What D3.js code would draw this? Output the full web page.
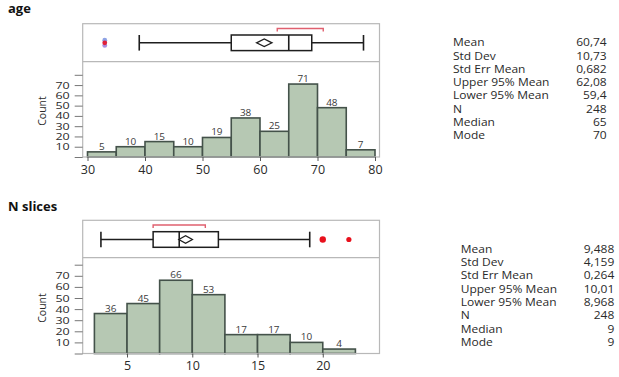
<!DOCTYPE html>
<html>
<head>
<meta charset="utf-8">
<script src="https://cdn.jsdelivr.net/npm/d3@7"></script>
<style>
  body { margin: 0; background: #fff; }
  svg { display: block; font-family: "Open Sans", "Noto Sans", sans-serif; }
</style>
</head>
<body>
<svg id="chart" width="619" height="377"></svg>
<script>
// age distribution
const ageEdges = [30, 35, 40, 45, 50, 55, 60, 65, 70, 75, 80];
const ageCounts = [5, 10, 15, 10, 19, 38, 25, 71, 48, 7];
const ageFive = [39, 55, 65, 69, 78]; // min, q1, median, q3, max (whiskers)
const ageMean = [59.4, 60.74, 62.08]; // lower 95%, mean, upper 95%
const ageShortest = [63, 71];
const ageOutliers = [33, 33, 33];
const ageTicks = [30, 40, 50, 60, 70, 80];
const ageStats = ["60,74", "10,73", "0,682", "62,08", "59,4", "248", "65", "70"];

// N slices distribution
const sliceEdges = [2.5, 5, 7.5, 10, 12.5, 15, 17.5, 20, 22.5];
const sliceCounts = [36, 45, 66, 53, 17, 17, 10, 4];
const sliceFive = [3, 7, 9, 12, 19];
const sliceMean = [8.968, 9.488, 10.01];
const sliceShortest = [7, 11];
const sliceOutliers = [20, 22];
const sliceTicks = [5, 10, 15, 20];
const sliceStats = ["9,488", "4,159", "0,264", "10,01", "8,968", "248", "9", "9"];

const countTicks = [0, 10, 20, 30, 40, 50, 60, 70, 80];
const statLabels = ["Mean", "Std Dev", "Std Err Mean", "Upper 95% Mean", "Lower 95% Mean", "N", "Median", "Mode"];

const svg = d3.select("#chart");
const ink = "#2a2a2a";

function panel(o) {
  const g = svg.append("g");
  const x = d3.scaleLinear().domain(o.xDomain).range(o.xRange);
  const y = d3.scaleLinear().domain([0, 80]).range([o.bottom, o.y80]);

  g.append("text")
    .attr("x", 8).attr("y", o.titleY)
    .attr("font-weight", "bold").attr("font-size", 13).attr("fill", "#111")
    .text(o.title);

  // bars
  const bins = o.counts.map((c, i) => ({ x0: o.edges[i], x1: o.edges[i + 1], c }));
  g.selectAll("rect.bar").data(bins).join("rect")
    .attr("class", "bar")
    .attr("x", d => x(d.x0)).attr("width", d => x(d.x1) - x(d.x0))
    .attr("y", d => y(d.c)).attr("height", d => y(0) - y(d.c))
    .attr("fill", "#b6c8b3").attr("stroke", "#44524a").attr("stroke-width", 1.6);

  g.selectAll("text.cnt").data(bins).join("text")
    .attr("class", "cnt")
    .attr("transform", d => `translate(${(x(d.x0) + x(d.x1)) / 2},${y(d.c) - 2}) scale(1,0.82)`)
    .attr("text-anchor", "middle").attr("font-size", 10).attr("fill", "#3a3a3a")
    .text(d => d.c);

  // frame
  g.append("rect")
    .attr("x", o.left).attr("y", o.top)
    .attr("width", o.right - o.left).attr("height", o.bottom - o.top)
    .attr("fill", "none").attr("stroke", "#b8b8b8").attr("stroke-width", 1.2);
  g.append("line")
    .attr("x1", o.left).attr("x2", o.right).attr("y1", o.divider).attr("y2", o.divider)
    .attr("stroke", "#b8b8b8").attr("stroke-width", 1.2);

  // axes
  const xa = g.append("g").attr("transform", `translate(0,${o.bottom})`)
    .call(d3.axisBottom(x).tickValues(o.ticks).tickSize(4).tickPadding(4));
  xa.select(".domain").remove();
  xa.selectAll("line").attr("stroke", "#555");
  xa.selectAll("text").attr("font-size", 12.5).attr("fill", ink)
    .attr("font-family", "'Open Sans', sans-serif");

  const ya = g.append("g").attr("transform", `translate(${o.left},0)`)
    .call(d3.axisLeft(y).tickValues(countTicks).tickSize(8).tickPadding(5)
      .tickFormat(d => (d === 0 || d === 80 ? "" : d)));
  ya.select(".domain").remove();
  ya.selectAll("line").attr("stroke", "#777");
  ya.selectAll("text").attr("font-size", 12.5).attr("fill", ink)
    .attr("font-family", "'Open Sans', sans-serif")
    .attr("transform", "scale(1,0.76)");

  g.append("text")
    .attr("transform", `translate(46,${o.countY}) rotate(-90)`)
    .attr("text-anchor", "middle").attr("font-size", 10.5).attr("fill", ink)
    .text("Count");

  // box plot
  const [mn, q1, md, q3, mx] = o.five;
  const cy = o.boxY, h = 7.8;
  const line = "#1e1e1e";
  g.append("line").attr("x1", x(mn)).attr("x2", x(q1)).attr("y1", cy).attr("y2", cy)
    .attr("stroke", line).attr("stroke-width", 1.5);
  g.append("line").attr("x1", x(q3)).attr("x2", x(mx)).attr("y1", cy).attr("y2", cy)
    .attr("stroke", line).attr("stroke-width", 1.5);
  g.selectAll("line.cap").data([mn, mx]).join("line")
    .attr("class", "cap")
    .attr("x1", d => x(d)).attr("x2", d => x(d)).attr("y1", cy - h).attr("y2", cy + h)
    .attr("stroke", line).attr("stroke-width", 1.6);
  g.append("rect")
    .attr("x", x(q1)).attr("width", x(q3) - x(q1))
    .attr("y", cy - h).attr("height", 2 * h)
    .attr("fill", "#fff").attr("stroke", line).attr("stroke-width", 1.5);
  g.append("line").attr("x1", x(md)).attr("x2", x(md)).attr("y1", cy - h).attr("y2", cy + h)
    .attr("stroke", line).attr("stroke-width", 1.6);
  const [lo, mean, hi] = o.mean;
  g.append("path")
    .attr("d", `M${x(lo)},${cy}L${x(mean)},${cy - 3.8}L${x(hi)},${cy}L${x(mean)},${cy + 3.8}Z`)
    .attr("fill", "#fff").attr("stroke", line).attr("stroke-width", 1.3);

  const by = o.bracketY;
  g.append("path")
    .attr("d", `M${x(o.shortest[0])},${by + 3}V${by}H${x(o.shortest[1])}V${by + 3}`)
    .attr("fill", "none").attr("stroke", "#e0606f").attr("stroke-width", 1.4);

  g.selectAll("circle.out").data(o.outliers).join("circle")
    .attr("class", "out")
    .attr("cx", d => x(d))
    .attr("cy", (d, i) => cy + o.outDy[i])
    .attr("r", (d, i) => o.outR[i])
    .attr("fill", (d, i) => o.outColor[i]);

  // summary statistics
  const s = g.append("g");
  statLabels.forEach((lab, i) => {
    const yy = o.statY + i * 13.3;
    s.append("text").attr("transform", `translate(${o.statX},${yy}) scale(1,0.9)`)
      .attr("font-size", 12).attr("fill", ink).text(lab);
    s.append("text").attr("transform", `translate(${o.statR},${yy}) scale(1,0.9)`)
      .attr("text-anchor", "end").attr("font-size", 12).attr("fill", ink).text(o.stats[i]);
  });
}

panel({
  title: "age", titleY: 13,
  edges: ageEdges, counts: ageCounts, ticks: ageTicks,
  five: ageFive, mean: ageMean, shortest: ageShortest, outliers: ageOutliers,
  outDy: [-2.6, 2.6, 0], outR: [2.4, 2.4, 2.4], outColor: ["#8ea2e4", "#a98fe0", "#e0203a"],
  stats: ageStats,
  xDomain: [30, 80], xRange: [87.5, 375],
  left: 82.7, right: 379.5, top: 23.7, divider: 61.7, bottom: 157, y80: 74.8,
  boxY: 42.8, bracketY: 28.5, countY: 111,
  statX: 453, statR: 606.7, statY: 46.2
});

panel({
  title: "N slices", titleY: 210.5,
  edges: sliceEdges, counts: sliceCounts, ticks: sliceTicks,
  five: sliceFive, mean: sliceMean, shortest: sliceShortest, outliers: sliceOutliers,
  outDy: [0, 0], outR: [3.2, 2.6], outColor: ["#e8101c", "#e8101c"],
  stats: sliceStats,
  xDomain: [2.5, 22.5], xRange: [94.4, 355.4],
  left: 82.7, right: 379.5, top: 220.3, divider: 257.7, bottom: 353.5, y80: 264.7,
  boxY: 239.5, bracketY: 225, countY: 308,
  statX: 460.7, statR: 614.3, statY: 252.7
});
</script>
</body>
</html>
